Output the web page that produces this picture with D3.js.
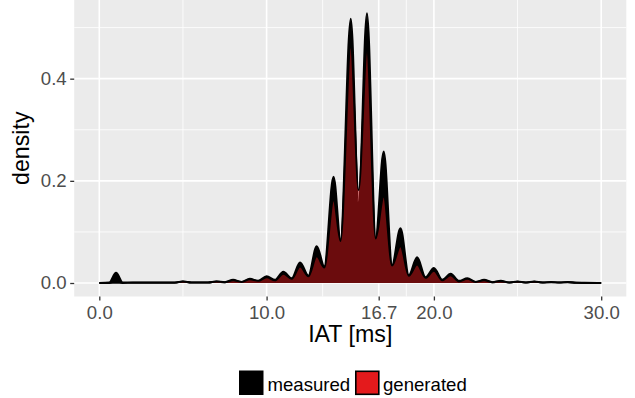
<!DOCTYPE html>
<html><head><meta charset="utf-8">
<script src="https://cdn.jsdelivr.net/npm/d3@7"></script>
<style>body{margin:0;background:#fff}svg{display:block}</style>
</head><body>
<svg id="c" width="635" height="398"></svg>
<script>
// Sample positions (ms) along the density curves
const iat = [0, 0.6, 1.0, 1.4, 2, 3, 4, 4.5, 5, 5.5, 6, 6.5, 7, 7.5, 8, 8.5, 9, 9.5, 10, 10.5, 11, 11.5, 12, 12.5, 13, 13.45, 14, 14.42, 15.03, 15.5, 16, 16.52, 17, 17.5, 18, 18.5, 19, 19.5, 20, 20.5, 21, 21.5, 22, 22.5, 23, 23.5, 24, 24.5, 25, 25.5, 26, 26.5, 27, 27.5, 28, 28.5, 29, 30];
const measured = [0, 0.001, 0.020, 0.001, 0.001, 0.001, 0.001, 0.001, 0.003, 0.001, 0.001, 0.001, 0.003, 0.0015, 0.006, 0.002, 0.008, 0.004, 0.013, 0.006, 0.022, 0.009, 0.040, 0.014, 0.072, 0.032, 0.208, 0.084, 0.517, 0.157, 0.528, 0.088, 0.257, 0.035, 0.107, 0.015, 0.050, 0.011, 0.029, 0.006, 0.018, 0.004, 0.009, 0.002, 0.006, 0.0015, 0.004, 0.001, 0.003, 0.001, 0.003, 0.001, 0.002, 0.001, 0.002, 0.0005, 0.0003, 0];
const generated = [0, 0, 0.0005, 0, 0.0005, 0.0005, 0.0005, 0.0005, 0.003, 0.001, 0.001, 0.001, 0.003, 0.0015, 0.005, 0.002, 0.007, 0.004, 0.011, 0.005, 0.018, 0.008, 0.032, 0.013, 0.052, 0.030, 0.162, 0.082, 0.462, 0.182, 0.453, 0.087, 0.169, 0.034, 0.072, 0.014, 0.036, 0.010, 0.024, 0.005, 0.015, 0.003, 0.008, 0.002, 0.005, 0.0015, 0.0035, 0.001, 0.0025, 0.001, 0.0025, 0.001, 0.0015, 0.001, 0.0015, 0.0005, 0.0003, 0];
const xTicks = [0, 10, 16.7, 20, 30];
const xTickLabels = ["0.0", "10.0", "16.7", "20.0", "30.0"];
const xMinor = [5, 13.35, 18.35, 25];
const yTicks = [0, 0.2, 0.4];
const yTickLabels = ["0.0", "0.2", "0.4"];
const yMinor = [0.1, 0.3, 0.5];
const seriesNames = ["measured", "generated"];

const svg = d3.select("#c");
const L = 74.2, R = 626.3, T = 0, B = 296.5;
const x = d3.scaleLinear().domain([-1.5, 31.5]).range([L, R]);
const y = d3.scaleLinear().domain([-0.0264, 0.554]).range([B, T]);

svg.append("rect").attr("x", L).attr("y", T).attr("width", R - L).attr("height", B - T).attr("fill", "#EBEBEB");
const g = svg.append("g");
g.selectAll(".vmin").data(xMinor).enter().append("line")
  .attr("x1", d => x(d)).attr("x2", d => x(d)).attr("y1", T).attr("y2", B)
  .attr("stroke", "#fff").attr("stroke-width", 0.8);
g.selectAll(".hmin").data(yMinor).enter().append("line")
  .attr("y1", d => y(d)).attr("y2", d => y(d)).attr("x1", L).attr("x2", R)
  .attr("stroke", "#fff").attr("stroke-width", 0.8);
g.selectAll(".vmaj").data(xTicks).enter().append("line")
  .attr("x1", d => x(d)).attr("x2", d => x(d)).attr("y1", T).attr("y2", B)
  .attr("stroke", "#fff").attr("stroke-width", 1.6);
g.selectAll(".hmaj").data(yTicks).enter().append("line")
  .attr("y1", d => y(d)).attr("y2", d => y(d)).attr("x1", L).attr("x2", R)
  .attr("stroke", "#fff").attr("stroke-width", 1.6);

function series(vals) { return iat.map((t, i) => [t, vals[i]]); }
const area = d3.area().x(d => x(d[0])).y0(y(0)).y1(d => y(d[1])).curve(d3.curveMonotoneX);
const line = d3.line().x(d => x(d[0])).y(d => y(d[1])).curve(d3.curveMonotoneX);

svg.append("path").attr("d", area(series(measured))).attr("fill", "#000");
svg.append("path").attr("d", line(series(measured))).attr("fill", "none").attr("stroke", "#000").attr("stroke-width", 2.2).attr("stroke-linejoin", "round");
svg.append("path").attr("d", area(series(generated))).attr("fill", "#E41A1C").attr("fill-opacity", 0.47);
svg.append("path").attr("d", line(series(generated))).attr("fill", "none").attr("stroke", "#000").attr("stroke-width", 1.8).attr("stroke-linejoin", "round");

const fnt = "'Liberation Sans', Arial, Helvetica, sans-serif";
const xa = svg.append("g").attr("transform", `translate(0,${B})`)
  .call(d3.axisBottom(x).tickValues(xTicks).tickFormat((d, i) => xTickLabels[i]).tickSize(4).tickPadding(5));
const ya = svg.append("g").attr("transform", `translate(${L},0)`)
  .call(d3.axisLeft(y).tickValues(yTicks).tickFormat((d, i) => yTickLabels[i]).tickSize(4).tickPadding(3.5));
[xa, ya].forEach(a => {
  a.select(".domain").remove();
  a.selectAll(".tick line").attr("stroke", "#333").attr("stroke-width", 1.3);
  a.selectAll(".tick text").attr("fill", "#4D4D4D").style("font-family", fnt).style("font-size", "18.6px");
});

svg.append("text").attr("x", (L + R) / 2).attr("y", 342).attr("text-anchor", "middle")
  .style("font-family", fnt).style("font-size", "23.2px").attr("fill", "#000").text("IAT [ms]");
svg.append("text").attr("transform", `translate(29,${(T + B) / 2}) rotate(-90)`).attr("text-anchor", "middle")
  .style("font-family", fnt).style("font-size", "23.2px").attr("fill", "#000").text("density");

// Legend
const lg = svg.append("g");
lg.append("rect").attr("x", 239).attr("y", 370.5).attr("width", 24.5).attr("height", 24.5).attr("fill", "#000");
lg.append("text").attr("x", 267.5).attr("y", 390.5).style("font-family", fnt).style("font-size", "18.6px").attr("fill", "#000").text(seriesNames[0]);
lg.append("rect").attr("x", 355.8).attr("y", 371.3).attr("width", 23).attr("height", 23).attr("fill", "#E41A1C").attr("stroke", "#000").attr("stroke-width", 1.6);
lg.append("text").attr("x", 383).attr("y", 390.5).style("font-family", fnt).style("font-size", "18.6px").attr("fill", "#000").text(seriesNames[1]);
</script>
</body></html>
